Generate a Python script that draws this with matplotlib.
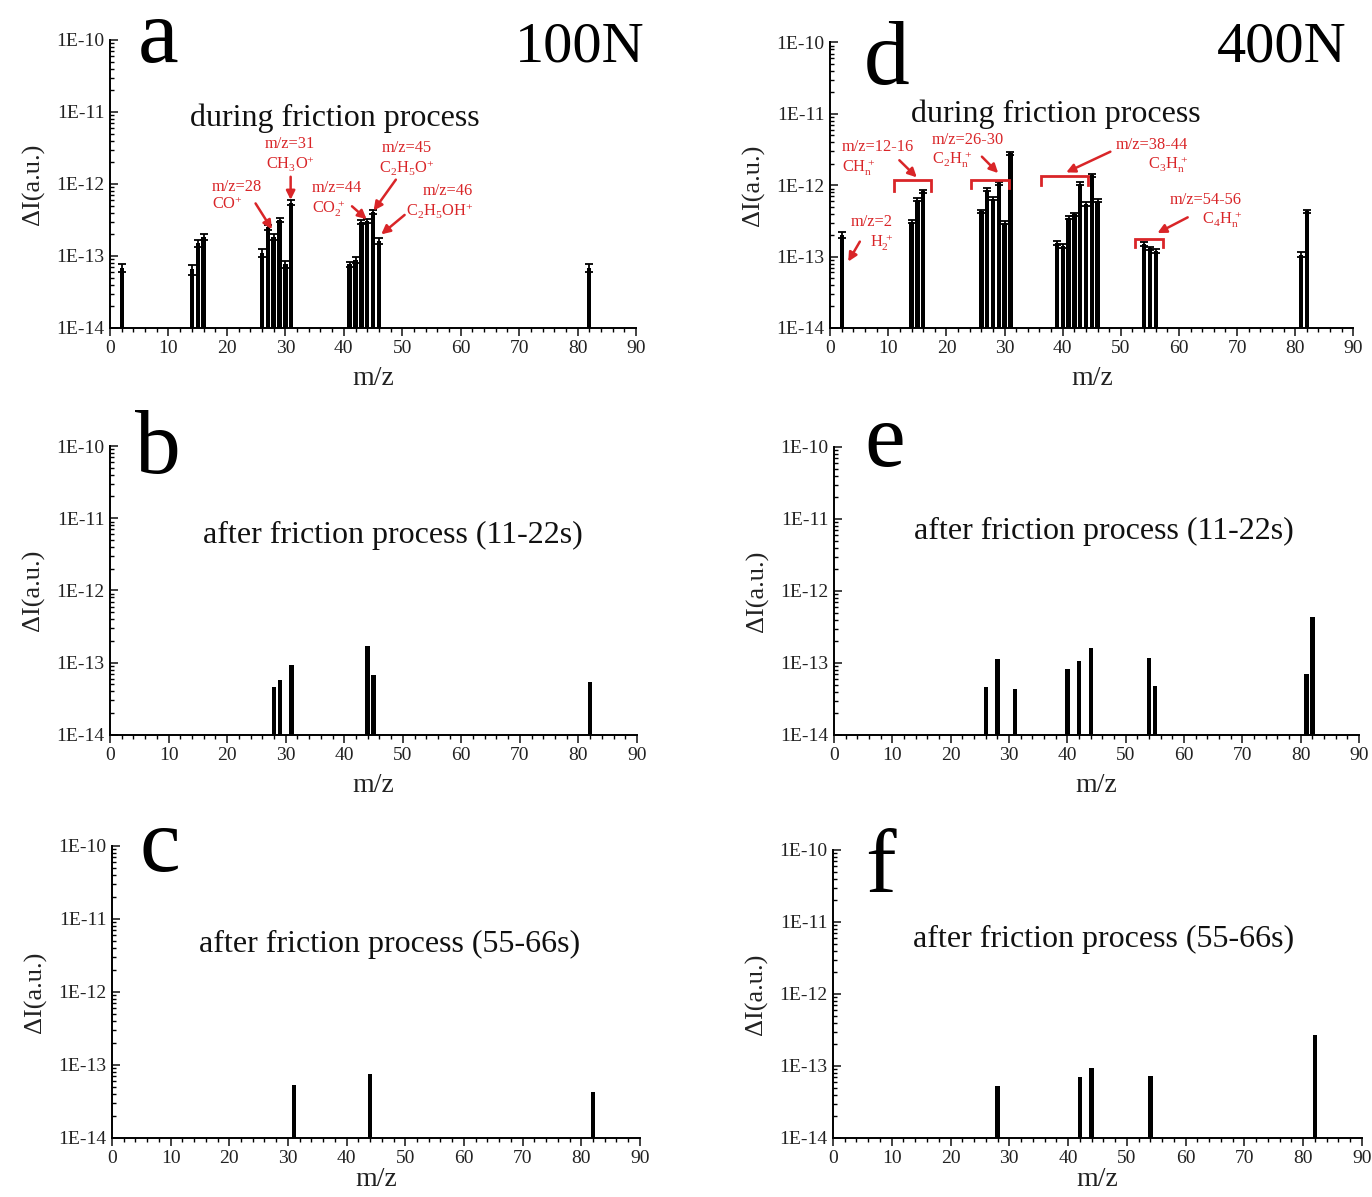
import numpy as np
import matplotlib
matplotlib.use("Agg")
import matplotlib.pyplot as plt
from matplotlib.ticker import LogLocator, FuncFormatter, MultipleLocator, NullFormatter

plt.rcParams['font.family'] = ['Liberation Serif', 'DejaVu Serif']
plt.rcParams['mathtext.fontset'] = 'custom'
plt.rcParams['mathtext.rm'] = 'Liberation Serif'
plt.rcParams['mathtext.it'] = 'Liberation Serif:italic'
plt.rcParams['mathtext.bf'] = 'Liberation Serif:bold'

RED = '#d92528'

# ---- data: m/z peaks and intensity changes ΔI (a.u.) ----
# (a) 100N, during friction
mz_a = [2, 14, 15, 16, 26, 27, 28, 29, 30, 31, 41, 42, 43, 44, 45, 46, 82]
val_a = [6.8e-14, 6.5e-14, 1.5e-13, 1.85e-13, 1.1e-13, 2.5e-13, 1.85e-13, 3.2e-13,
         7.7e-14, 5.5e-13, 7.7e-14, 8.8e-14, 3.0e-13, 3.1e-13, 4.1e-13, 1.6e-13, 6.8e-14]
err_a = [0.9e-14, 1.0e-14, 1.8e-14, 1.6e-14, 1.4e-14, 2.0e-14, 1.6e-14, 2.2e-14,
         0.9e-14, 4.0e-14, 0.6e-14, 0.8e-14, 2.0e-14, 2.0e-14, 2.8e-14, 1.5e-14, 0.9e-14]

# (b) 100N, after friction 11-22 s
mz_b = [28, 29, 31, 44, 45, 82]
val_b = [4.6e-14, 5.8e-14, 9.3e-14, 1.72e-13, 6.7e-14, 5.4e-14]

# (c) 100N, after friction 55-66 s
mz_c = [31, 44, 82]
val_c = [5.3e-14, 7.5e-14, 4.3e-14]

# (d) 400N, during friction
mz_d = [2, 14, 15, 16, 26, 27, 28, 29, 30, 31, 39, 40, 41, 42, 43, 44, 45, 46,
        54, 55, 56, 81, 82]
val_d = [2.0e-13, 3.1e-13, 6.3e-13, 8.3e-13, 4.3e-13, 8.7e-13, 6.5e-13, 1.07e-12,
         3.0e-13, 2.8e-12, 1.55e-13, 1.42e-13, 3.5e-13, 3.9e-13, 1.05e-12, 5.5e-13,
         1.37e-12, 6.1e-13, 1.5e-13, 1.3e-13, 1.2e-13, 1.07e-13, 4.3e-13]
err_d = [1.8e-14, 1.5e-14, 3.0e-14, 4.0e-14, 2.0e-14, 4.5e-14, 3.0e-14, 5.0e-14,
         1.5e-14, 1.5e-13, 0.9e-14, 0.9e-14, 1.8e-14, 2.0e-14, 5.0e-14, 3.0e-14,
         7.0e-14, 3.0e-14, 0.9e-14, 0.8e-14, 0.8e-14, 0.9e-14, 2.5e-14]

# (e) 400N, after friction 11-22 s
mz_e = [26, 28, 31, 40, 42, 44, 54, 55, 81, 82]
val_e = [4.6e-14, 1.13e-13, 4.4e-14, 8.3e-14, 1.08e-13, 1.6e-13, 1.18e-13, 4.8e-14,
         7.0e-14, 4.3e-13]

# (f) 400N, after friction 55-66 s
mz_f = [28, 42, 44, 54, 82]
val_f = [5.2e-14, 7.1e-14, 9.5e-14, 7.3e-14, 2.7e-13]

y_ticks = [1e-14, 1e-13, 1e-12, 1e-11, 1e-10]

fig = plt.figure(figsize=(13.72, 11.97), dpi=100)

# axes rectangles [left, bottom, width, height] in figure fraction
rects = {
    'a': [0.0802, 0.7260, 0.3834, 0.2406],
    'b': [0.0802, 0.3860, 0.3841, 0.2414],
    'c': [0.0816, 0.0493, 0.3848, 0.2440],
    'd': [0.6051, 0.7260, 0.3813, 0.2385],
    'e': [0.6079, 0.3860, 0.3827, 0.2406],
    'f': [0.6071, 0.0493, 0.3856, 0.2406],
}


def style_axes(ax, xlabelpad):
    ax.set_yscale('log')
    ax.set_ylim(1e-14, 1e-10)
    ax.set_xlim(0, 90)
    for s in ('top', 'right'):
        ax.spines[s].set_visible(False)
    for s in ('left', 'bottom'):
        ax.spines[s].set_linewidth(1.4)
    ax.set_yticks(y_ticks)
    ax.yaxis.set_major_formatter(FuncFormatter(lambda v, p: '1E%d' % int(round(np.log10(v)))))
    ax.yaxis.set_minor_locator(LogLocator(base=10, subs=np.arange(2, 10)))
    ax.yaxis.set_minor_formatter(NullFormatter())
    ax.xaxis.set_major_locator(MultipleLocator(10))
    ax.xaxis.set_minor_locator(MultipleLocator(2))
    ax.tick_params(axis='y', which='major', direction='in', length=6, width=1.2,
                   labelsize=14, pad=4, colors='#222222')
    ax.tick_params(axis='y', which='minor', direction='in', length=3, width=1.0)
    ax.tick_params(axis='x', which='major', direction='out', length=6, width=1.2,
                   labelsize=14, pad=3, colors='#222222')
    ax.tick_params(axis='x', which='minor', direction='out', length=3, width=1.0)
    ax.set_xlabel('m/z', fontsize=20, labelpad=xlabelpad, color='#222222')
    ax.set_ylabel('ΔI(a.u.)', fontsize=19, labelpad=8, color='#222222')


def draw_bars(ax, mz, val, err=None):
    kw = dict(width=0.75, color='black', linewidth=0)
    if err is not None:
        kw.update(yerr=err, capsize=2.6,
                  error_kw=dict(ecolor='black', elinewidth=1.3, capthick=1.3))
    ax.bar(mz, val, **kw)


def arrow(ax, start, tip):
    ax.annotate('', xy=(tip[0], 10 ** tip[1]), xytext=(start[0], 10 ** start[1]),
                arrowprops=dict(arrowstyle='-|>', color=RED, lw=1.8,
                                mutation_scale=13, shrinkA=0, shrinkB=0))


def bracket(ax, x0, x1, ytop, ybot):
    ax.plot([x0, x0, x1, x1], [10 ** ybot, 10 ** ytop, 10 ** ytop, 10 ** ybot],
            color=RED, lw=2.0, solid_joinstyle='miter')


def red_text(ax, x, logy, s, ha):
    ax.text(x, 10 ** logy, s, color=RED, fontsize=11.8, ha=ha, va='center',
            multialignment=ha, linespacing=1.15)


axes = {}
for key, r in rects.items():
    ax = fig.add_axes(r)
    style_axes(ax, 0 if key in ('c', 'f') else 6)
    axes[key] = ax

draw_bars(axes['a'], mz_a, val_a, err_a)
draw_bars(axes['b'], mz_b, val_b)
draw_bars(axes['c'], mz_c, val_c)
draw_bars(axes['d'], mz_d, val_d, err_d)
draw_bars(axes['e'], mz_e, val_e)
draw_bars(axes['f'], mz_f, val_f)

# panel letters and headings
letters = {'a': (0.091, 0.924), 'b': (0.091, 0.905), 'c': (0.091, 0.915),
           'd': (0.107, 0.853), 'e': (0.097, 0.935), 'f': (0.090, 0.853)}
for key, (lx, ly) in letters.items():
    axes[key].text(lx, ly, key, transform=axes[key].transAxes, fontsize=66,
                   ha='center', va='baseline', color='black')

axes['a'].text(1.017, 0.924, '100N', transform=axes['a'].transAxes, fontsize=42,
               ha='right', va='baseline')
axes['d'].text(0.987, 0.933, '400N', transform=axes['d'].transAxes, fontsize=42,
               ha='right', va='baseline')

headings = {
    'a': ('during friction process', 0.428, 0.729),
    'b': ('after friction process (11-22s)', 0.536, 0.692),
    'c': ('after friction process (55-66s)', 0.525, 0.664),
    'd': ('during friction process', 0.432, 0.749),
    'e': ('after friction process (11-22s)', 0.514, 0.708),
    'f': ('after friction process (55-66s)', 0.511, 0.688),
}
for key, (s, hx, hy) in headings.items():
    axes[key].text(hx, hy, s, transform=axes[key].transAxes, fontsize=23,
                   ha='center', va='center', color='#111111')

# ---- annotations, panel a ----
ax = axes['a']
red_text(ax, 30.8, -11.59, 'm/z=31\nCH$_3$O$^{+}$', 'center')
arrow(ax, (30.9, -11.90), (30.9, -12.22))
red_text(ax, 17.4, -12.17, 'm/z=28\nCO$^{+}$', 'left')
arrow(ax, (24.9, -12.27), (27.7, -12.63))
red_text(ax, 34.5, -12.22, 'm/z=44\nCO$_2^{\\,+}$', 'left')
arrow(ax, (41.4, -12.31), (43.9, -12.49))
red_text(ax, 50.7, -11.65, 'm/z=45\nC$_2$H$_5$O$^{+}$', 'center')
arrow(ax, (48.9, -11.94), (45.1, -12.37))
red_text(ax, 62.1, -12.24, 'm/z=46\nC$_2$H$_5$OH$^{+}$', 'right')
arrow(ax, (50.4, -12.43), (46.4, -12.70))

# ---- annotations, panel d ----
ax = axes['d']
red_text(ax, 10.8, -12.67, 'm/z=2\nH$_2^{\\,+}$', 'right')
arrow(ax, (5.1, -12.79), (3.1, -13.07))
red_text(ax, 1.98, -11.63, 'm/z=12-16\nCH$_\\mathrm{n}^{\\,+}$', 'left')
arrow(ax, (11.9, -11.65), (14.9, -11.89))
bracket(ax, 10.9, 17.3, -11.93, -12.08)
red_text(ax, 17.47, -11.52, 'm/z=26-30\nC$_2$H$_\\mathrm{n}^{\\,+}$', 'left')
arrow(ax, (26.1, -11.60), (28.9, -11.83))
bracket(ax, 24.3, 30.8, -11.92, -12.04)
red_text(ax, 61.6, -11.59, 'm/z=38-44\nC$_3$H$_\\mathrm{n}^{\\,+}$', 'right')
arrow(ax, (48.2, -11.53), (40.6, -11.82))
bracket(ax, 36.3, 44.4, -11.877, -11.99)
red_text(ax, 70.8, -12.36, 'm/z=54-56\nC$_4$H$_\\mathrm{n}^{\\,+}$', 'right')
arrow(ax, (61.5, -12.45), (56.3, -12.67))
bracket(ax, 52.5, 57.2, -12.75, -12.87)

fig.savefig('out.png', dpi=100)
